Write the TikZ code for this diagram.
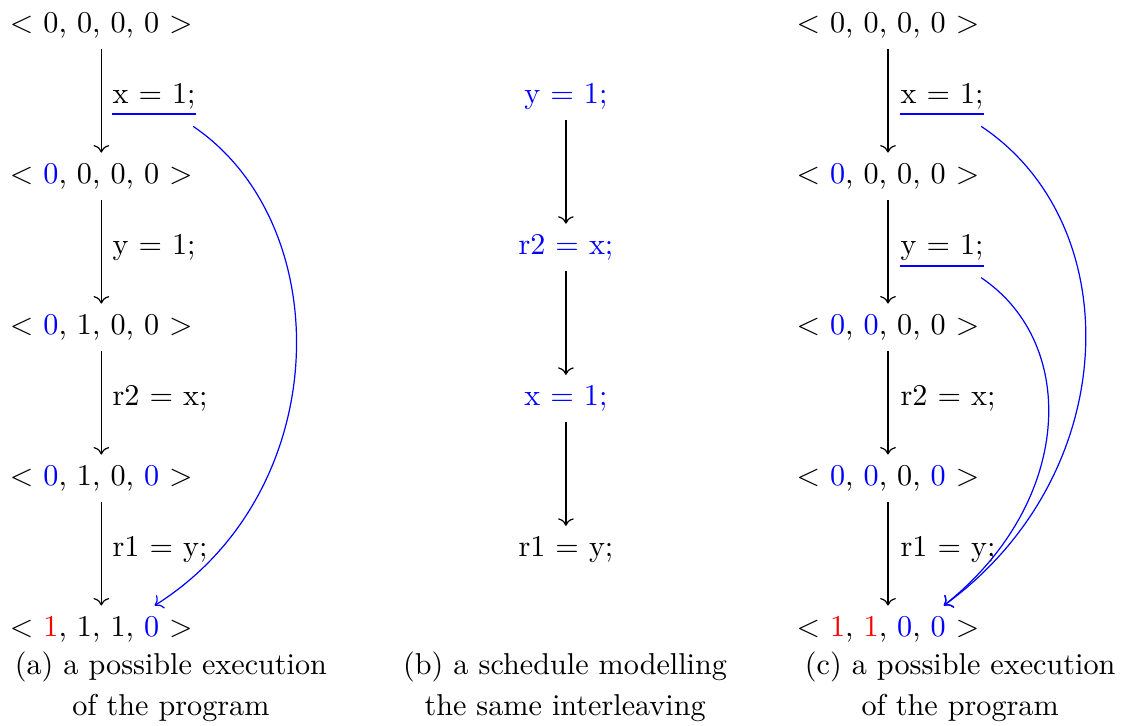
\documentclass[tikz,border=0pt]{standalone}
\usepackage{amsmath, amssymb}
\usetikzlibrary{arrows.meta, positioning}

\newcommand{\blu}[1]{\textcolor{blue}{#1}}
\newcommand{\rd}[1]{\textcolor{red}{#1}}

\begin{document}
\begin{tikzpicture}[
    >=To,
    stmt/.style={anchor=west, inner xsep=0pt, inner ysep=1.5pt},
    subcap/.style={align=center},
    uline/.style={blue, semithick}
  ]
  \useasboundingbox (0,0) rectangle (13.10,-8.45);

  % (a) execution
  \node (a1) at (1.18,-0.294) {$<$ 0, 0, 0, 0 $>$};
  \node (a2) at (1.18,-2.052) {$<$ \blu{0}, 0, 0, 0 $>$};
  \node (a3) at (1.18,-3.81)  {$<$ \blu{0}, 1, 0, 0 $>$};
  \node (a4) at (1.18,-5.568) {$<$ \blu{0}, 1, 0, \blu{0} $>$};
  \node (a5) at (1.18,-7.326) {$<$ \rd{1}, 1, 1, \blu{0} $>$};
  \node[stmt] (ax)  at (1.304,-1.12) {x $=$ 1;};
  \node[stmt] (ay)  at (1.304,-2.88) {y $=$ 1;};
  \node[stmt] (ar2) at (1.304,-4.64) {r2 $=$ x;};
  \node[stmt] (ar1) at (1.304,-6.40) {r1 $=$ y;};
  \draw[->] (a1) -- (a2);
  \draw[->] (a2) -- (a3);
  \draw[->] (a3) -- (a4);
  \draw[->] (a4) -- (a5);
  \draw[uline] (ax.south west) -- (ax.south east);
  \coordinate (a5end) at ([xshift=0.62cm]a5.north);
  \draw[blue, ->] ([shift={(-1pt,-4pt)}]ax.south east)
    .. controls +(1.69,-1.145) and +(2.1,1.32) .. (a5end);
  \node[subcap] (capa) at (1.99,-8.0) {(a) a possible execution\\[1.5pt] of the program};

  % (b) schedule
  \node (b1) at (6.59,-1.12) {\blu{y $=$ 1;}};
  \node (b2) at (6.59,-2.88) {\blu{r2 $=$ x;}};
  \node (b3) at (6.59,-4.64) {\blu{x $=$ 1;}};
  \node (b4) at (6.59,-6.40) {r1 $=$ y;};
  \draw[->] (b1) -- (b2);
  \draw[->] (b2) -- (b3);
  \draw[->] (b3) -- (b4);
  \node[subcap] (capb) at (6.58,-8.0) {(b) a schedule modelling\\[1.5pt] the same interleaving};

  % (c) execution
  \node (c1) at (10.34,-0.294) {$<$ 0, 0, 0, 0 $>$};
  \node (c2) at (10.34,-2.052) {$<$ \blu{0}, 0, 0, 0 $>$};
  \node (c3) at (10.34,-3.81)  {$<$ \blu{0}, \blu{0}, 0, 0 $>$};
  \node (c4) at (10.34,-5.568) {$<$ \blu{0}, \blu{0}, 0, \blu{0} $>$};
  \node (c5) at (10.34,-7.326) {$<$ \rd{1}, \rd{1}, \blu{0}, \blu{0} $>$};
  \node[stmt] (cx)  at (10.48,-1.12) {x $=$ 1;};
  \node[stmt] (cy)  at (10.48,-2.88) {y $=$ 1;};
  \node[stmt] (cr2) at (10.48,-4.64) {r2 $=$ x;};
  \node[stmt] (cr1) at (10.48,-6.40) {r1 $=$ y;};
  \draw[->] (c1) -- (c2);
  \draw[->] (c2) -- (c3);
  \draw[->] (c3) -- (c4);
  \draw[->] (c4) -- (c5);
  \draw[uline] (cx.south west) -- (cx.south east);
  \draw[uline] (cy.south west) -- (cy.south east);
  \coordinate (c5end) at ([xshift=0.65cm]c5.north);
  \draw[blue, ->] ([shift={(-1pt,-4pt)}]cx.south east)
    .. controls +(1.72,-1.145) and +(2.09,1.52) .. (c5end);
  \draw[blue, ->] ([shift={(-1pt,-4pt)}]cy.south east)
    .. controls +(1.15,-0.775) and +(1.5,1.19) .. (c5end);
  \node[subcap] (capc) at (11.18,-8.0) {(c) a possible execution\\[1.5pt] of the program};
\end{tikzpicture}
\end{document}
